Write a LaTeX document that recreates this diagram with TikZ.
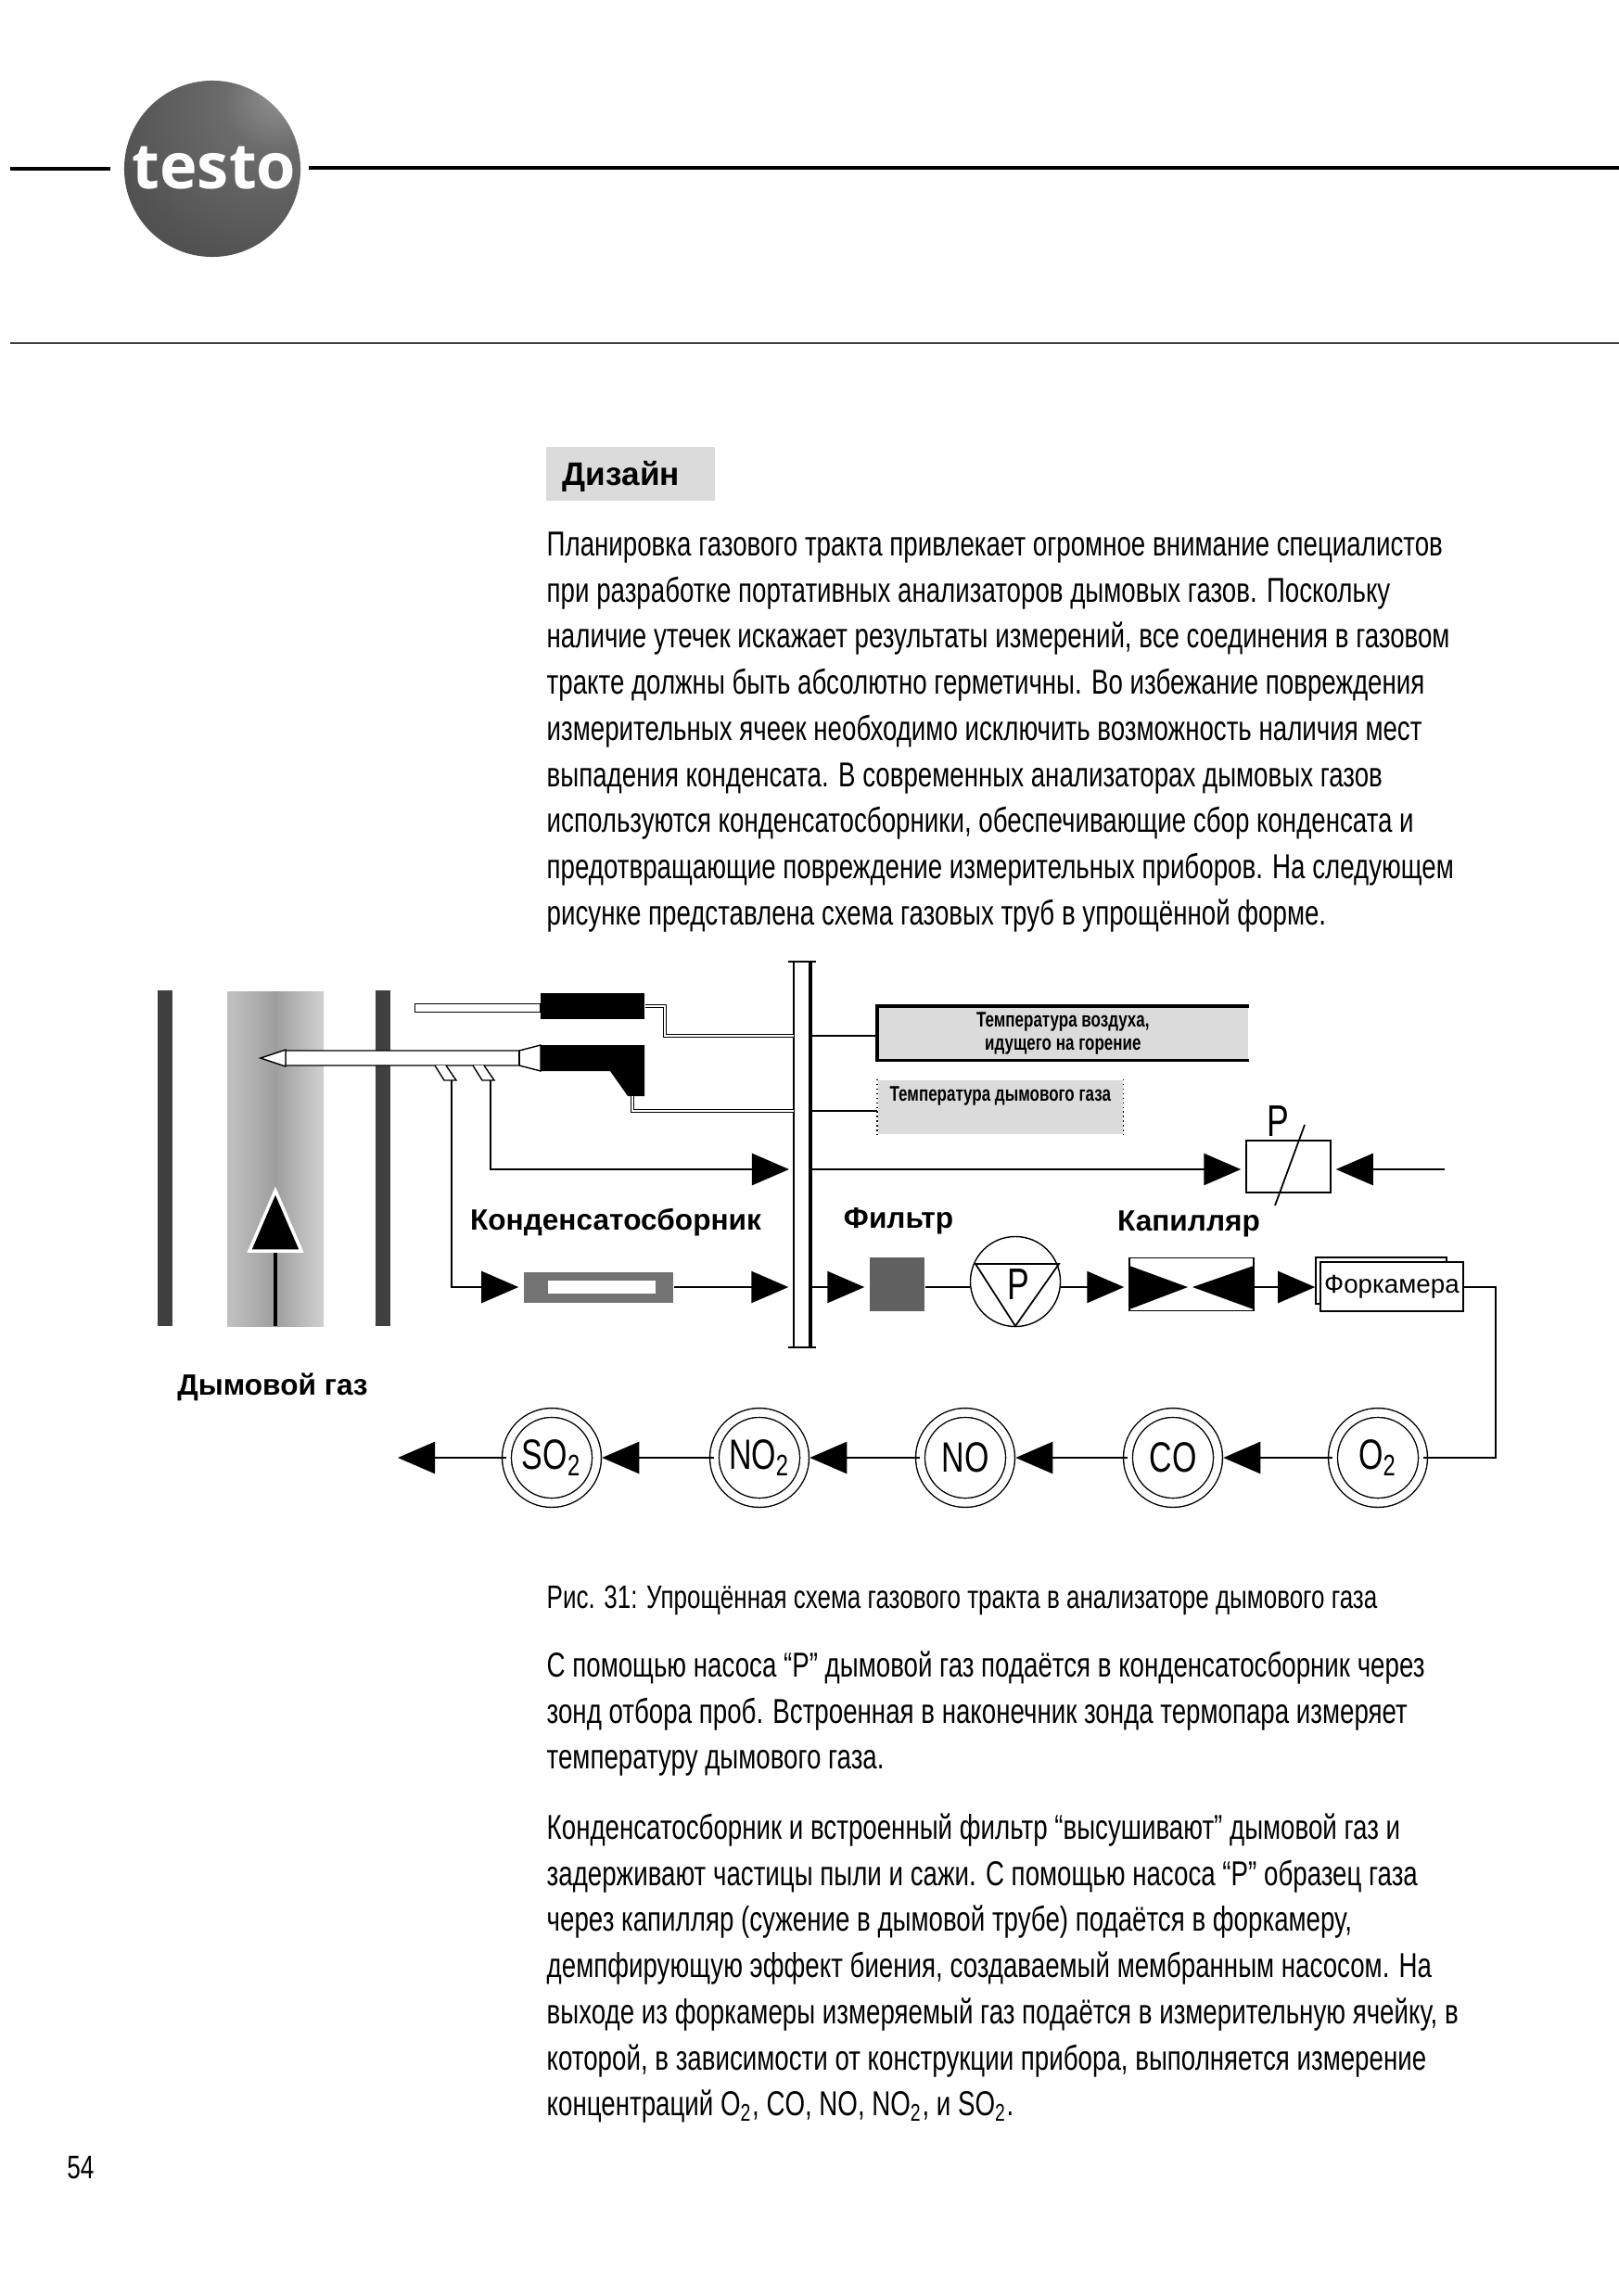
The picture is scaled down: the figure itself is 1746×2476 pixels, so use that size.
\documentclass[tikz,border=0pt]{standalone}
\usepackage{fontspec}
\setmainfont{Liberation Sans}
\newfontfamily\narrowfont[FakeStretch=0.743]{Liberation Sans}
\newfontfamily\logofont{Open Sans}
\usetikzlibrary{arrows.meta}
\pgfdeclareradialshading{logoball}{\pgfpoint{20bp}{22bp}}{color(0bp)=(black!42); color(14bp)=(black!58); color(40bp)=(black!68); color(75bp)=(black!76); color(100bp)=(black!76)}
\tikzset{
    pipe/.style={line width=0.7pt},
    flow/.style={pipe, -{Triangle[length=4mm,width=3.4mm]}, shorten >=0.5mm},
    wire/.style={line width=0.3pt, double, double distance=0.7pt},
    unit/.style={draw, line width=0.4pt, fill=white, inner sep=0pt},
    cell/.style={circle, draw, line width=0.4pt, double, double distance=2.4pt, inner sep=0pt, minimum size=0.97cm, font=\narrowfont\fontsize{13}{13}\selectfont},
    tag/.style={font=\bfseries\fontsize{9}{9}\selectfont},
    body/.style={anchor=north west, inner sep=0pt, align=left, font=\narrowfont\fontsize{10.6}{14.15}\selectfont},
    sensor/.style={fill=black!14, inner sep=0pt, anchor=north west, font=\narrowfont\bfseries\fontsize{6.5}{7}\selectfont, align=center}
}
\begin{document}
\begin{tikzpicture}[x=0.01cm, y=-0.01cm]
        \useasboundingbox (0,0) rectangle (1746,2476);
        \draw[line width=0.9pt] (11,182) -- (119,182);
        \draw[line width=0.9pt] (333,181) -- (1746,181);
        \draw[line width=0.5pt, black!75] (11,370) -- (1746,370);
        \node[circle, minimum size=1.9cm, inner sep=0pt, shading=logoball] (ball) at (229,182) {};
        \node[text=white, font=\logofont\bfseries\fontsize{19.5}{20}\selectfont] (logo) at (231,181) {testo};

        \node[fill=black!14, minimum width=1.82cm, minimum height=0.57cm, inner sep=0pt] (headbar) at (680,511) {};
        \node[font=\bfseries\fontsize{10}{10}\selectfont] (head) at (670,514) {Дизайн};
        \node[body] (intro) at (589,573) {Планировка газового тракта привлекает огромное внимание специалистов\\
            при разработке портативных анализаторов дымовых газов. Поскольку\\
            наличие утечек искажает результаты измерений, все соединения в газовом\\
            тракте должны быть абсолютно герметичны. Во избежание повреждения\\
            измерительных ячеек необходимо исключить возможность наличия мест\\
            выпадения конденсата. В современных анализаторах дымовых газов\\
            используются конденсатосборники, обеспечивающие сбор конденсата и\\
            предотвращающие повреждение измерительных приборов. На следующем\\
            рисунке представлена схема газовых труб в упрощённой форме.};

        \shade[left color=black!24, right color=black!18, middle color=black!38] (245,1069) rectangle (349,1430);
        \node[fill=black!75, minimum width=0.15cm, minimum height=3.61cm, inner sep=0pt] (wallA) at (178,1249) {};
        \node[fill=black!75, minimum width=0.16cm, minimum height=3.61cm, inner sep=0pt] (wallB) at (413,1249) {};
        \coordinate (gasin) at (297,1430);
        \draw[line width=1.4pt] (gasin) -- (297,1345);
        \draw[fill=black, draw=white, line width=1pt] (297,1284) -- (325,1349) -- (269,1349) -- cycle;

        \node[unit, minimum width=1.35cm, minimum height=0.09cm] (airtube) at (515,1087) {};
        \node[fill=black, minimum width=1.12cm, minimum height=0.28cm, inner sep=0pt] (airblock) at (639,1085) {};
        \draw[unit] (308,1133) -- (560,1133) -- (583,1127) -- (583,1155) -- (560,1149) -- (308,1149) -- cycle;
        \draw[line width=0.3pt] (560,1133) -- (560,1149);
        \draw[fill=white, line width=0.4pt] (281,1141) -- (308,1132) -- (308,1150) -- cycle;
        \draw[unit] (469,1149) -- (479,1165) -- (492,1165) -- (481,1149);
        \draw[unit] (510,1149) -- (520,1165) -- (533,1165) -- (522,1149);
        \fill (583,1127) -- (695,1127) -- (695,1182) -- (677,1182) -- (658,1155) -- (583,1155) -- cycle;

        \node[draw, line width=0.4pt, fill=white, minimum width=0.17cm, minimum height=4.16cm, inner sep=0pt] (bus) at (864.5,1245) {};
        \draw[line width=1.1pt] (bus.north east) -- (bus.south east);
        \draw[line width=0.6pt] (850,1037) -- (880,1037);
        \draw[line width=0.6pt] (850,1453) -- (880,1453);

        \coordinate (row) at (0,1388);
        \coordinate (portA) at (856,1117);
        \coordinate (portB) at (856,1198);
        \coordinate (gasport) at (682,1182);
        \draw[wire] (airblock.east) -- (717,1085) |- (portA);
        \draw[wire] (gasport) |- (portB);

        \node[sensor, minimum width=3.99cm, minimum height=0.57cm] (airbox) at (946,1085) {Температура воздуха,\\идущего на горение};
        \draw[line width=1pt] (airbox.north east) -- (airbox.north west) -- (airbox.south west) -- (airbox.south east);
        \node[sensor, minimum width=2.64cm, minimum height=0.58cm, text depth=0.28cm] (gasbox) at (946,1164) {Температура дымового газа};
        \draw[line width=0.4pt, densely dotted] (gasbox.north west) -- (gasbox.south west);
        \draw[line width=0.4pt, densely dotted] (gasbox.north east) -- (gasbox.south east);
        \draw[pipe] (bus.east |- portA) -- (airbox.west |- portA);
        \draw[pipe] (bus.east |- portB) -- (gasbox.west |- portB);

        \coordinate (stubA) at (487,1165);
        \coordinate (stubB) at (529,1165);
        \coordinate (busin) at (856,1261);
        \node[unit, minimum width=0.91cm, minimum height=0.56cm] (pbox) at (1389.5,1258) {};
        \node[font=\narrowfont\fontsize{13.6}{13.6}\selectfont] (plabel) at (1378,1209) {P};
        \coordinate (slashA) at (1407,1213);
        \coordinate (slashB) at (1375,1300);
        \draw[line width=0.5pt] (slashA) -- (slashB);
        \coordinate (pfree) at (1558,1261);
        \draw[flow] (stubB) |- (busin);
        \draw[flow] (bus.east |- busin) -- (pbox.west |- busin);
        \draw[flow] (pfree) -- (pbox.east |- pfree);

        \node[fill=black!55, minimum width=1.61cm, minimum height=0.33cm, inner sep=0pt] (cond) at (645.5,1388) {};
        \node[fill=white, minimum width=1.16cm, minimum height=0.14cm, inner sep=0pt] (condcore) at (649,1388) {};
        \node[fill=black!62, minimum width=0.59cm, minimum height=0.57cm, inner sep=0pt] (filter) at (967.5,1385) {};
        \node[unit, circle, minimum size=0.97cm] (pump) at (1095,1382) {};
        \node[font=\narrowfont\fontsize{13.6}{13.6}\selectfont] (pumplabel) at (1098,1385) {P};
        \draw[line width=0.5pt] (1052,1363) -- (1142,1363) -- (1095,1430) -- cycle;
        \node[unit, minimum width=1.34cm, minimum height=0.57cm] (cap) at (1285,1385) {};
        \fill (1218,1365) -- (1281,1388) -- (1218,1412) -- cycle;
        \fill (1352,1365) -- (1286,1388) -- (1352,1412) -- cycle;
        \node[unit, minimum width=1.41cm, minimum height=0.5cm] (chamberback) at (1489.5,1381) {};
        \node[unit, minimum width=1.54cm, minimum height=0.53cm, font=\fontsize{7.9}{9}\selectfont] (chamber) at (1501,1387.5) {Форкамера};
        \draw[flow] (stubA) |- (cond.west |- row);
        \draw[flow] (cond.east |- row) -- (bus.west |- row);
        \draw[flow] (bus.east |- row) -- (filter.west |- row);
        \draw[pipe] (filter.east |- row) -- (pump.west |- row);
        \draw[flow] (pump.east |- row) -- (cap.west |- row);
        \draw[flow] (cap.east |- row) -- (chamber.west |- row);

        \node[tag] (condtag) at (664,1318) {Конденсатосборник};
        \node[tag] (filtertag) at (969,1317) {Фильтр};
        \node[tag] (captag) at (1282,1320) {Капилляр};
        \node[tag] (smoketag) at (294,1496) {Дымовой газ};

        \node[cell] (o2) at (1486,1572) {O\textsubscript{2}};
        \node[cell] (co) at (1265,1572) {CO};
        \node[cell] (no) at (1041,1572) {NO};
        \node[cell] (notwo) at (819,1572) {NO\textsubscript{2}};
        \node[cell] (sotwo) at (595,1572) {SO\textsubscript{2}};
        \coordinate (corner) at (1613,1572);
        \coordinate (exhaust) at (424,1572);
        \draw[pipe] (chamber.east |- row) -| (corner) -- (o2.east);
        \draw[flow] (o2) -- (co);
        \draw[flow] (co) -- (no);
        \draw[flow] (no) -- (notwo);
        \draw[flow] (notwo) -- (sotwo);
        \draw[flow] (sotwo) -- (exhaust);

        \node[body, font=\narrowfont\fontsize{9.95}{14.15}\selectfont] (caption) at (589,1709) {Рис. 31: Упрощённая схема газового тракта в анализаторе дымового газа};
        \node[body] (paraA) at (589,1780) {С помощью насоса “P” дымовой газ подаётся в конденсатосборник через\\
            зонд отбора проб. Встроенная в наконечник зонда термопара измеряет\\
            температуру дымового газа.};
        \node[body] (paraB) at (589,1955) {Конденсатосборник и встроенный фильтр “высушивают” дымовой газ и\\
            задерживают частицы пыли и сажи. С помощью насоса “P” образец газа\\
            через капилляр (сужение в дымовой трубе) подаётся в форкамеру,\\
            демпфирующую эффект биения, создаваемый мембранным насосом. На\\
            выходе из форкамеры измеряемый газ подаётся в измерительную ячейку, в\\
            которой, в зависимости от конструкции прибора, выполняется измерение\\
            концентраций O\textsubscript{2}, CO, NO, NO\textsubscript{2}, и SO\textsubscript{2}.};
        \node[font=\narrowfont\fontsize{10}{10}\selectfont] (pagenum) at (87,2338) {54};
    \end{tikzpicture}
\end{document}
